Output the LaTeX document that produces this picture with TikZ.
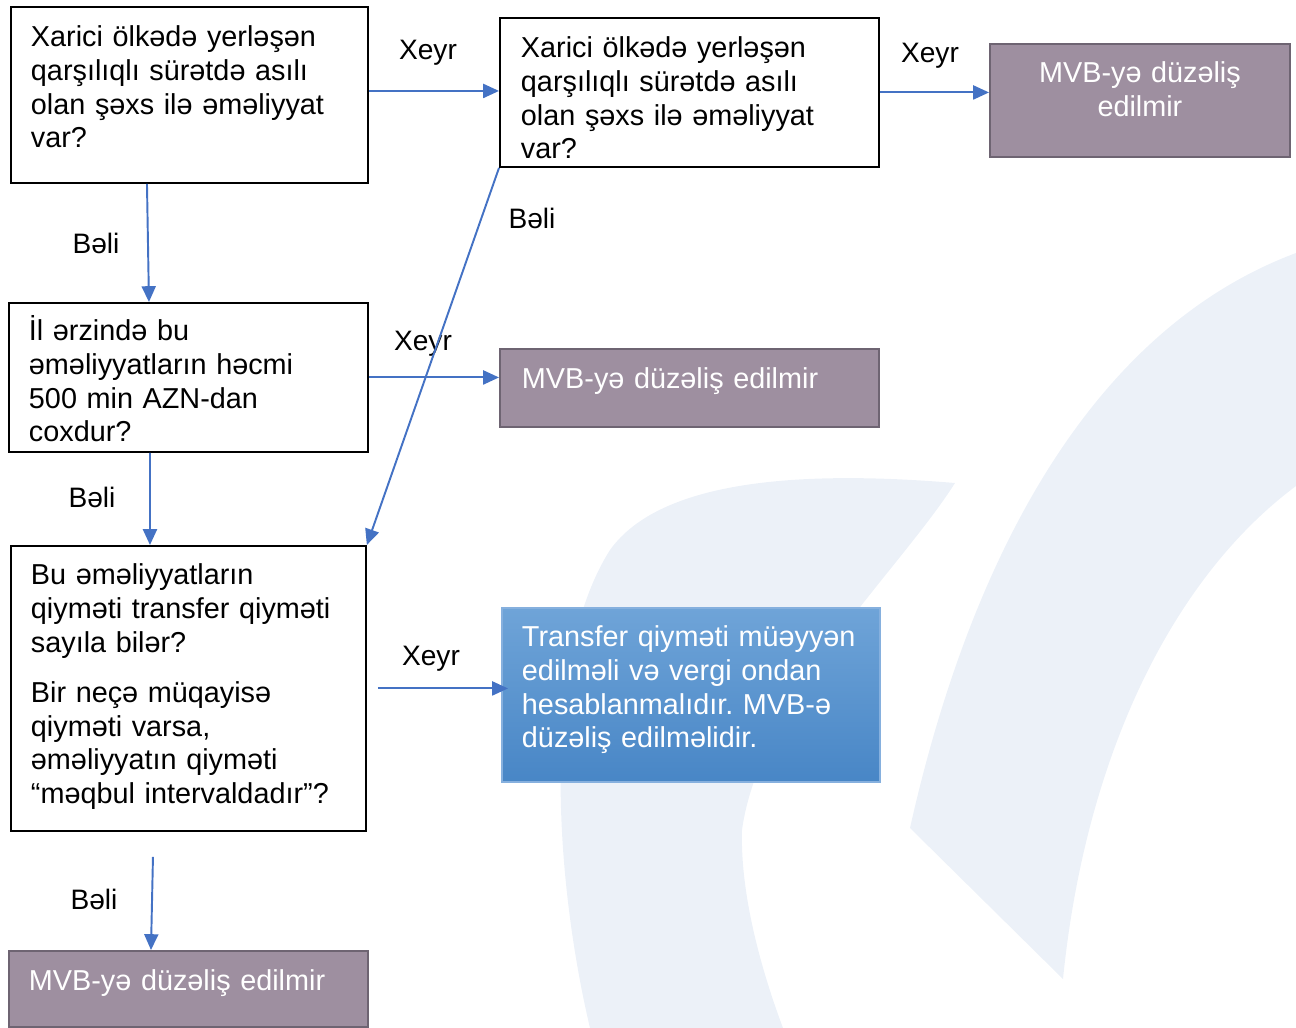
\documentclass[tikz,border=0pt]{standalone}
\usepackage{fontspec}
\setmainfont{Liberation Sans}
\usetikzlibrary{arrows.meta}
\frenchspacing

\definecolor{flowblue}{HTML}{4472C4}
\definecolor{mauve}{HTML}{9E8FA0}
\definecolor{mauveline}{HTML}{6E6472}
\definecolor{skytop}{HTML}{6FA4D8}
\definecolor{skybottom}{HTML}{4886C6}
\definecolor{skyline}{HTML}{86B0DE}
\definecolor{wmark}{HTML}{ECF1F8}

\begin{document}
\begin{tikzpicture}[x=0.02cm, y=-0.02cm,
    panel/.style={draw, line width=1.1pt, anchor=north west, align=left, inner xsep=0.4cm, inner ysep=0pt, font=\fontsize{16.4pt}{19.1pt}\selectfont},
    ask/.style={panel, draw=black, fill=white},
    verdict/.style={panel, draw=mauveline, fill=mauve, text=white},
    result/.style={panel, draw=skyline, top color=skytop, bottom color=skybottom, text=white},
    answer/.style={font=\fontsize{16pt}{19pt}\selectfont},
    flow/.style={draw=flowblue, line width=1.1pt, -{Triangle[length=9pt, width=8pt]}}]
    \useasboundingbox (0,0) rectangle (1296,1028);
    \fill [wmark] (590,1028) .. controls (555,880) and (540,660) .. (610,550) .. controls (660,480) and (800,470) .. (955,483) .. controls (900,570) and (760,700) .. (742,830) .. controls (740,900) and (765,980) .. (783,1028) -- cycle;
    \fill [wmark] (910,828) .. controls (970,560) and (1090,330) .. (1296,253) -- (1296,486) .. controls (1170,580) and (1085,760) .. (1063,979) -- cycle;

    \node [ask, text width=6.34cm, text height=0.8cm, text depth=2.72cm](foreign) at (10,6) {Xarici ölkədə yerləşən\\qarşılıqlı sürətdə asılı\\olan şəxs ilə əməliyyat\\var?};
    \node [ask, text width=6.74cm, inner xsep=0.42cm, text height=0.8cm, text depth=2.18cm](abroad) at (499,17) {Xarici ölkədə yerləşən\\qarşılıqlı sürətdə asılı\\olan şəxs ilə əməliyyat\\var?};
    \node [verdict, align=center, text width=5.2cm, text height=0.78cm, text depth=1.48cm](noneTop) at (989,43) {MVB-yə düzəliş\\edilmir};
    \node [ask, text width=6.38cm, text height=0.76cm, text depth=2.22cm](volume) at (8,302) {İl ərzində bu\\əməliyyatların həcmi\\500 min AZN-dan\\coxdur?};
    \node [verdict, text width=6.7cm, inner xsep=0.44cm, text height=0.8cm, text depth=0.76cm](noneMid) at (499,348) {MVB-yə düzəliş edilmir};
    \node [ask, text width=6.3cm, text height=0.78cm, text depth=4.92cm](price) at (10,545) {Bu əməliyyatların\\qiyməti transfer qiyməti\\sayıla bilər?\\[0.34cm]Bir neçə müqayisə\\qiyməti varsa,\\əməliyyatın qiyməti\\“məqbul intervaldadır”?};
    \node [result, text width=6.76cm, text height=0.78cm, text depth=2.7cm](transfer) at (501,607) {Transfer qiyməti müəyyən\\edilməli və vergi ondan\\hesablanmalıdır. MVB-ə\\düzəliş edilməlidir.};
    \node [verdict, text width=6.38cm, text height=0.8cm, text depth=0.72cm](noneLow) at (8,950) {MVB-yə düzəliş edilmir};

    \node [answer](noA) at (428,53) {Xeyr};
    \node [answer](noB) at (930,56) {Xeyr};
    \node [answer](yesA) at (96,243) {Bəli};
    \node [answer](yesB) at (532,218) {Bəli};
    \node [answer](noC) at (423,344) {Xeyr};
    \node [answer](yesC) at (92,497) {Bəli};
    \node [answer](noD) at (431,659) {Xeyr};
    \node [answer](yesD) at (94,899) {Bəli};

    \draw [flow] ([yshift=0.08cm]foreign.east) -- ([yshift=0.08cm]foreign.east -| abroad.west);
    \draw [flow] (abroad.east) -- (abroad.east -| noneTop.west);
    \draw [flow] ([xshift=2.74cm]foreign.south west) -- ([xshift=2.82cm]volume.north west);
    \draw [flow] (abroad.south west) -- (price.north east);
    \draw [flow] (volume.east) -- (volume.east -| noneMid.west);
    \draw [flow] ([xshift=2.84cm]volume.south west) -- ([xshift=2.8cm]price.north west);
    \draw [flow] ([xshift=0.22cm]price.east) -- ([xshift=0.14cm]price.east -| transfer.west);
    \draw [flow] ([shift={(2.86cm,-0.5cm)}]price.south west) -- ([xshift=2.86cm]noneLow.north west);
\end{tikzpicture}
\end{document}
